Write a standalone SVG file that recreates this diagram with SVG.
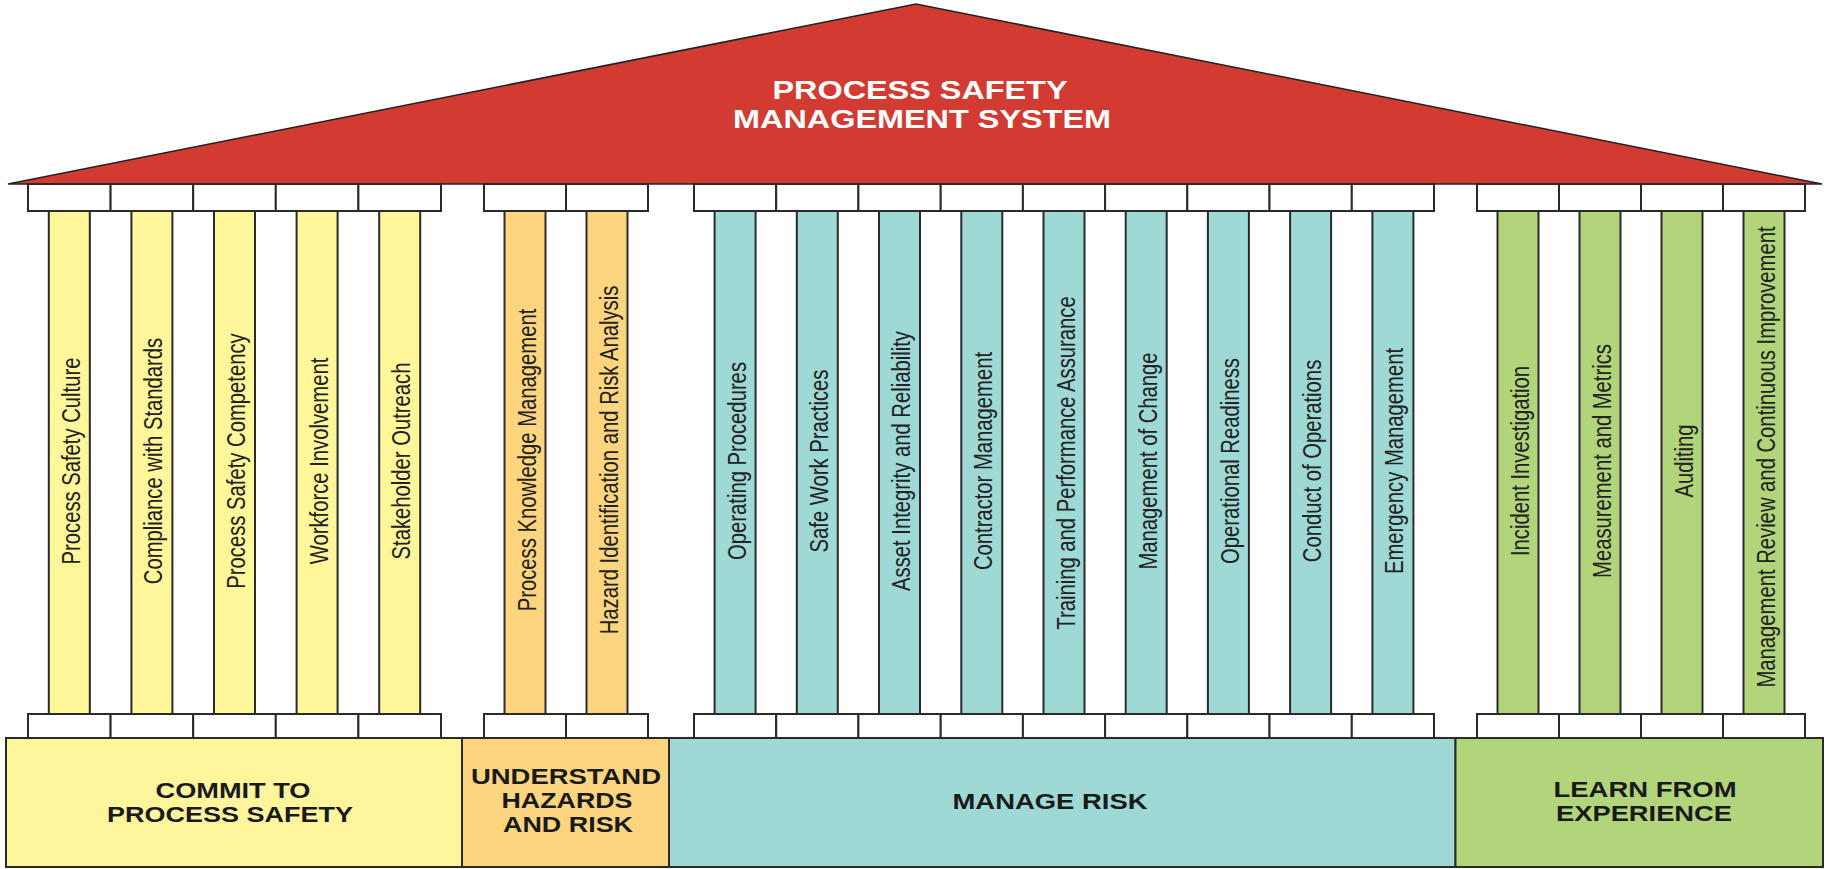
<svg xmlns="http://www.w3.org/2000/svg" width="1825" height="869" viewBox="0 0 1825 869">
<style>
.cap{fill:#ffffff;stroke:#2a2a2a;stroke-width:2}
.col{stroke:#2a2a2a;stroke-width:2}
.y{fill:#fff799}.o{fill:#fdd57e}.b{fill:#9ed9d6}.g{fill:#b2d57b}
.lbl{font-family:"Liberation Sans",Arial,sans-serif;font-size:25px;fill:#222;text-anchor:middle}
.base{stroke:#2a2a2a;stroke-width:2}
.bt{font-family:"Liberation Sans",Arial,sans-serif;font-weight:bold;font-size:22px;fill:#1a1a1a;text-anchor:middle}
.tt{font-family:"Liberation Sans",Arial,sans-serif;font-weight:bold;font-size:25px;fill:#ffffff;text-anchor:middle}
</style>
<rect width="1825" height="869" fill="#ffffff"/>
<g id="roof">
<polygon points="8,184 916,4 1822,184" fill="#d13b31" stroke="#222" stroke-width="1.5"/>
<text class="tt" x="920" y="99" textLength="295" lengthAdjust="spacingAndGlyphs">PROCESS SAFETY</text>
<text class="tt" x="922" y="128" textLength="378" lengthAdjust="spacingAndGlyphs">MANAGEMENT SYSTEM</text>
</g>
<g id="connectors"/>
<!-- yellow pillars -->
<g id="p1"><rect class="col y" x="48.8" y="211" width="41" height="503"/><rect class="cap" x="28" y="184" width="82.6" height="27"/><rect class="cap" x="28" y="714" width="82.6" height="24"/><text class="lbl" transform="translate(79.8,461) rotate(-90) scale(0.81,1)">Process Safety Culture</text></g>
<g id="p2"><rect class="col y" x="131.4" y="211" width="41" height="503"/><rect class="cap" x="110.6" y="184" width="82.6" height="27"/><rect class="cap" x="110.6" y="714" width="82.6" height="24"/><text class="lbl" transform="translate(162.4,461) rotate(-90) scale(0.81,1)">Compliance with Standards</text></g>
<g id="p3"><rect class="col y" x="214" y="211" width="41" height="503"/><rect class="cap" x="193.2" y="184" width="82.6" height="27"/><rect class="cap" x="193.2" y="714" width="82.6" height="24"/><text class="lbl" transform="translate(245,461) rotate(-90) scale(0.81,1)">Process Safety Competency</text></g>
<g id="p4"><rect class="col y" x="296.6" y="211" width="41" height="503"/><rect class="cap" x="275.8" y="184" width="82.6" height="27"/><rect class="cap" x="275.8" y="714" width="82.6" height="24"/><text class="lbl" transform="translate(327.6,461) rotate(-90) scale(0.81,1)">Workforce Involvement</text></g>
<g id="p5"><rect class="col y" x="379.2" y="211" width="41" height="503"/><rect class="cap" x="358.4" y="184" width="82.6" height="27"/><rect class="cap" x="358.4" y="714" width="82.6" height="24"/><text class="lbl" transform="translate(410.2,461) rotate(-90) scale(0.81,1)">Stakeholder Outreach</text></g>
<!-- orange pillars -->
<g id="p6"><rect class="col o" x="504.5" y="211" width="41" height="503"/><rect class="cap" x="484" y="184" width="82" height="27"/><rect class="cap" x="484" y="714" width="82" height="24"/><text class="lbl" transform="translate(535.5,460) rotate(-90) scale(0.81,1)">Process Knowledge Management</text></g>
<g id="p7"><rect class="col o" x="586.5" y="211" width="41" height="503"/><rect class="cap" x="566" y="184" width="82" height="27"/><rect class="cap" x="566" y="714" width="82" height="24"/><text class="lbl" transform="translate(617.5,460) rotate(-90) scale(0.81,1)">Hazard Identification and Risk Analysis</text></g>
<!-- blue pillars -->
<g id="p8"><rect class="col b" x="714.6" y="211" width="41" height="503"/><rect class="cap" x="694" y="184" width="82.2" height="27"/><rect class="cap" x="694" y="714" width="82.2" height="24"/><text class="lbl" transform="translate(745.6,461) rotate(-90) scale(0.81,1)">Operating Procedures</text></g>
<g id="p9"><rect class="col b" x="796.8" y="211" width="41" height="503"/><rect class="cap" x="776.2" y="184" width="82.2" height="27"/><rect class="cap" x="776.2" y="714" width="82.2" height="24"/><text class="lbl" transform="translate(827.8,461) rotate(-90) scale(0.81,1)">Safe Work Practices</text></g>
<g id="p10"><rect class="col b" x="879" y="211" width="41" height="503"/><rect class="cap" x="858.4" y="184" width="82.3" height="27"/><rect class="cap" x="858.4" y="714" width="82.3" height="24"/><text class="lbl" transform="translate(910,461) rotate(-90) scale(0.81,1)">Asset Integrity and Reliability</text></g>
<g id="p11"><rect class="col b" x="961.3" y="211" width="41" height="503"/><rect class="cap" x="940.7" y="184" width="82.2" height="27"/><rect class="cap" x="940.7" y="714" width="82.2" height="24"/><text class="lbl" transform="translate(992.3,461) rotate(-90) scale(0.81,1)">Contractor Management</text></g>
<g id="p12"><rect class="col b" x="1043.5" y="211" width="41" height="503"/><rect class="cap" x="1022.9" y="184" width="82.2" height="27"/><rect class="cap" x="1022.9" y="714" width="82.2" height="24"/><text class="lbl" transform="translate(1074.5,463) rotate(-90) scale(0.81,1)">Training and Performance Assurance</text></g>
<g id="p13"><rect class="col b" x="1125.7" y="211" width="41" height="503"/><rect class="cap" x="1105.1" y="184" width="82.2" height="27"/><rect class="cap" x="1105.1" y="714" width="82.2" height="24"/><text class="lbl" transform="translate(1156.7,461) rotate(-90) scale(0.81,1)">Management of Change</text></g>
<g id="p14"><rect class="col b" x="1207.9" y="211" width="41" height="503"/><rect class="cap" x="1187.3" y="184" width="82.2" height="27"/><rect class="cap" x="1187.3" y="714" width="82.2" height="24"/><text class="lbl" transform="translate(1238.9,461) rotate(-90) scale(0.81,1)">Operational Readiness</text></g>
<g id="p15"><rect class="col b" x="1290.1" y="211" width="41" height="503"/><rect class="cap" x="1269.5" y="184" width="82.3" height="27"/><rect class="cap" x="1269.5" y="714" width="82.3" height="24"/><text class="lbl" transform="translate(1321.1,461) rotate(-90) scale(0.81,1)">Conduct of Operations</text></g>
<g id="p16"><rect class="col b" x="1372.4" y="211" width="41" height="503"/><rect class="cap" x="1351.8" y="184" width="82.2" height="27"/><rect class="cap" x="1351.8" y="714" width="82.2" height="24"/><text class="lbl" transform="translate(1403.4,461) rotate(-90) scale(0.81,1)">Emergency Management</text></g>
<!-- green pillars -->
<g id="p17"><rect class="col g" x="1497.5" y="211" width="41" height="503"/><rect class="cap" x="1477" y="184" width="82" height="27"/><rect class="cap" x="1477" y="714" width="82" height="24"/><text class="lbl" transform="translate(1528.5,461) rotate(-90) scale(0.81,1)">Incident Investigation</text></g>
<g id="p18"><rect class="col g" x="1579.5" y="211" width="41" height="503"/><rect class="cap" x="1559" y="184" width="82" height="27"/><rect class="cap" x="1559" y="714" width="82" height="24"/><text class="lbl" transform="translate(1610.5,461) rotate(-90) scale(0.81,1)">Measurement and Metrics</text></g>
<g id="p19"><rect class="col g" x="1661.5" y="211" width="41" height="503"/><rect class="cap" x="1641" y="184" width="82" height="27"/><rect class="cap" x="1641" y="714" width="82" height="24"/><text class="lbl" transform="translate(1692.5,461) rotate(-90) scale(0.81,1)">Auditing</text></g>
<g id="p20"><rect class="col g" x="1743.5" y="211" width="41" height="503"/><rect class="cap" x="1723" y="184" width="82" height="27"/><rect class="cap" x="1723" y="714" width="82" height="24"/><text class="lbl" transform="translate(1774.5,457) rotate(-90) scale(0.81,1)">Management Review and Continuous Improvement</text></g>
<!-- base -->
<g id="base-commit"><rect class="base" x="6" y="738" width="456" height="129" fill="#fff59d"/><text class="bt" x="233" y="798" textLength="155" lengthAdjust="spacingAndGlyphs">COMMIT TO</text><text class="bt" x="230" y="822" textLength="246" lengthAdjust="spacingAndGlyphs">PROCESS SAFETY</text></g>
<g id="base-understand"><rect class="base o" x="462" y="738" width="207" height="129"/><text class="bt" x="566" y="784" textLength="190" lengthAdjust="spacingAndGlyphs">UNDERSTAND</text><text class="bt" x="567" y="808" textLength="131" lengthAdjust="spacingAndGlyphs">HAZARDS</text><text class="bt" x="568" y="832" textLength="130" lengthAdjust="spacingAndGlyphs">AND RISK</text></g>
<g id="base-manage"><rect class="base b" x="669" y="738" width="786.5" height="129"/><text class="bt" x="1050" y="809" textLength="195" lengthAdjust="spacingAndGlyphs">MANAGE RISK</text></g>
<g id="base-learn"><rect class="base g" x="1455.5" y="738" width="367.5" height="129"/><text class="bt" x="1645" y="797" textLength="183" lengthAdjust="spacingAndGlyphs">LEARN FROM</text><text class="bt" x="1644" y="821" textLength="176" lengthAdjust="spacingAndGlyphs">EXPERIENCE</text></g>
</svg>
